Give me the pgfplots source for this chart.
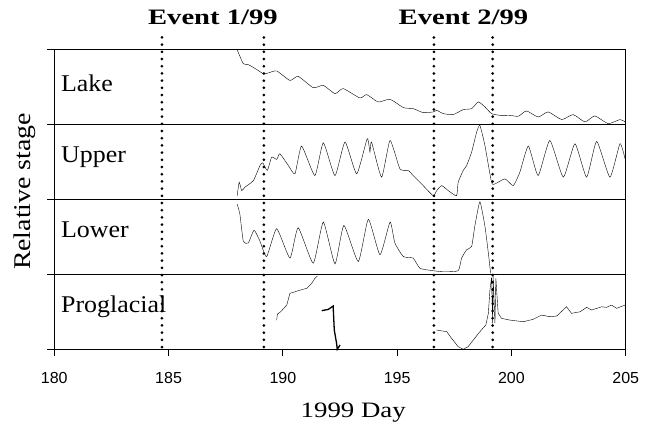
\documentclass[border=0pt]{standalone}
\usepackage{pgfplots}
\pgfplotsset{compat=1.18}
\usepackage{graphicx}
\usepackage{fontspec}
\setmainfont{Liberation Serif}
\newfontfamily\ticksans{Liberation Sans}

\pgfplotsset{
  panel/.style={
    width=571.4pt, height=74.9pt, scale only axis, anchor=south west,
    xmin=180, xmax=205, ymin=0, ymax=1,
    axis line style={line width=1pt},
    ytick={0,1}, yticklabels={}, ytick pos=left,
    xtick=\empty,
    tick align=outside, major tick length=7pt,
    tick style={line width=1pt, black},
    cycle list={{black, line width=1.3pt, no marks}},
  },
}
\tikzset{
  lab/.style={anchor=base west, inner sep=0pt, font=\fontsize{24}{24}\selectfont},
  event/.style={line width=3pt, line cap=round, dash pattern=on 0pt off 7.2pt},
}

\begin{document}
\begin{tikzpicture}
\path[use as bounding box] (0,0) rectangle (657pt,433pt);

% Lake
\begin{axis}[panel, at={(54.3pt,308.4pt)}]
\addplot+[smooth, tension=0.35] coordinates {(188.0,1.0) (188.27,0.813) (188.49,0.80) (188.85,0.737) (189.14,0.68)
 (189.36,0.689) (189.73,0.716) (190.31,0.59) (190.67,0.644) (191.33,0.493) (191.77,0.524)
 (192.28,0.413) (192.64,0.48) (193.37,0.356) (193.67,0.40) (194.17,0.302) (194.69,0.338)
 (195.27,0.227) (195.7,0.213) (196.14,0.16) (196.58,0.169) (196.73,0.19) (197.02,0.147)
 (197.45,0.133) (197.89,0.20) (198.26,0.213) (198.55,0.302) (198.84,0.236) (199.13,0.147)
 (199.5,0.124) (199.93,0.124) (200.3,0.111) (200.66,0.182) (201.17,0.102) (201.61,0.169)
 (202.2,0.067) (202.7,0.133) (203.22,0.036) (203.65,0.116) (204.23,0.013) (204.75,0.067)
 (204.97,0.036)};
\node[lab] at (axis cs:180.29,0.44) {\scalebox{1.08}[1]{Lake}};
\end{axis}

% Upper
\begin{axis}[panel, at={(54.3pt,233.5pt)}]
\addplot+[smooth, tension=0.3] coordinates {(188.0,0.05) (188.09,0.23) (188.2,0.118) (188.34,0.164) (188.71,0.252)
 (189.0,0.454) (189.12,0.49) (189.32,0.387) (189.51,0.566) (189.73,0.535) (189.87,0.611)
 (190.24,0.454) (190.53,0.342) (190.82,0.714) (191.4,0.319) (191.77,0.758) (192.28,0.319)
 (192.72,0.768) (193.23,0.342) (193.69,0.812) (193.81,0.634) (193.88,0.768) (194.32,0.298)
 (194.69,0.789) (195.12,0.409) (195.49,0.387) (195.7,0.319) (196.14,0.185) (196.58,0.05)
 (196.73,0.118) (196.95,0.185) (197.24,0.118) (197.6,0.05) (197.67,0.23) (197.89,0.387)
 (198.04,0.454) (198.26,0.634) (198.48,0.90) (198.62,0.99) (198.84,0.722) (199.13,0.23)
 (199.28,0.208) (199.72,0.275) (200.08,0.185) (200.37,0.365) (200.74,0.714) (201.17,0.319)
 (201.68,0.789) (202.27,0.298) (202.78,0.745) (203.29,0.298) (203.73,0.776) (204.31,0.298)
 (204.75,0.745) (204.97,0.544)};
\node[lab] at (axis cs:180.29,0.49) {\scalebox{1.08}[1]{Upper}};
\end{axis}

% Lower
\begin{axis}[panel, at={(54.3pt,158.6pt)}]
\addplot+[smooth, tension=0.3] coordinates {(188.0,0.939) (188.12,0.804) (188.27,0.442) (188.49,0.42) (188.74,0.591)
 (189.0,0.442) (189.29,0.238) (189.73,0.61) (190.31,0.217) (190.67,0.623) (191.33,0.149)
 (191.77,0.699) (192.28,0.14) (192.67,0.654) (193.3,0.171) (193.74,0.736) (194.25,0.262)
 (194.69,0.699) (194.9,0.42) (195.27,0.238) (195.7,0.217) (196.0,0.081) (196.58,0.049)
 (197.02,0.035) (197.67,0.049) (197.82,0.217) (198.04,0.329) (198.26,0.374) (198.4,0.645)
 (198.62,0.97) (198.84,0.645) (198.99,0.285) (199.09,0.014)};
\node[lab] at (axis cs:180.29,0.49) {\scalebox{1.08}[1]{Lower}};
\end{axis}

% Proglacial, with the shared decorations
\begin{axis}[panel, at={(54.3pt,83.7pt)}, clip=false,
  xtick={180,185,...,205}, xtick pos=bottom,
  /pgf/number format/assume math mode=true,
  xticklabel style={font=\ticksans\fontsize{16}{16}\selectfont, yshift=-12pt},
]
\addplot coordinates {(189.73,0.39) (189.76,0.47) (189.9,0.50) (190.17,0.59) (190.31,0.747)
 (190.53,0.768) (190.75,0.79) (191.04,0.813) (191.26,0.88) (191.4,0.947) (191.51,0.977)};
\addplot coordinates {(191.7,0.515) (191.99,0.533) (192.2,0.577) (192.25,0.257) (192.35,0.08)
 (192.38,0.0) (192.5,0.057)};
\addplot coordinates {(196.73,0.257) (197.17,0.235) (197.38,0.147) (197.67,0.035) (197.89,0.0)
 (198.11,0.035) (198.33,0.124) (198.62,0.235) (198.88,0.324) (198.99,0.48) (199.06,0.79)
 (199.13,0.96) (199.18,0.347) (199.2,0.977) (199.28,0.347) (199.32,0.947) (199.42,0.48)
 (199.57,0.413) (199.93,0.39) (200.52,0.368) (200.95,0.40) (201.32,0.457) (201.68,0.435)
 (201.98,0.444) (202.41,0.568) (202.63,0.48) (203.0,0.501) (203.29,0.56) (203.51,0.524)
 (203.95,0.568) (204.16,0.56) (204.38,0.59) (204.6,0.547) (204.97,0.59)};
\node[lab] at (axis cs:180.29,0.49) {\scalebox{1.08}[1]{Proglacial}};

% event markers
\draw[event] (axis cs:184.71,0.03) -- (axis cs:184.71,4.18);
\draw[event] (axis cs:189.17,0.03) -- (axis cs:189.17,4.18);
\draw[event] (axis cs:196.61,0.03) -- (axis cs:196.61,4.18);
\draw[event] (axis cs:199.18,0.03) -- (axis cs:199.18,4.18);
\node[anchor=base, inner sep=0pt, font=\bfseries\fontsize{22}{22}\selectfont]
  at (axis cs:186.94,4.343) {\scalebox{1.3}[1]{Event 1/99}};
\node[anchor=base, inner sep=0pt, font=\bfseries\fontsize{22}{22}\selectfont]
  at (axis cs:197.9,4.343) {\scalebox{1.3}[1]{Event 2/99}};
\node[anchor=base, inner sep=0pt, font=\fontsize{22}{22}\selectfont]
  at (axis cs:193.08,-0.917) {\scalebox{1.22}[1]{1999 Day}};
\node[anchor=base, inner sep=0pt, rotate=90, font=\fontsize{24}{24}\selectfont]
  at (axis cs:178.94,2.107) {\scalebox{1.16}[1]{Relative stage}};
\end{axis}
\end{tikzpicture}
\end{document}
